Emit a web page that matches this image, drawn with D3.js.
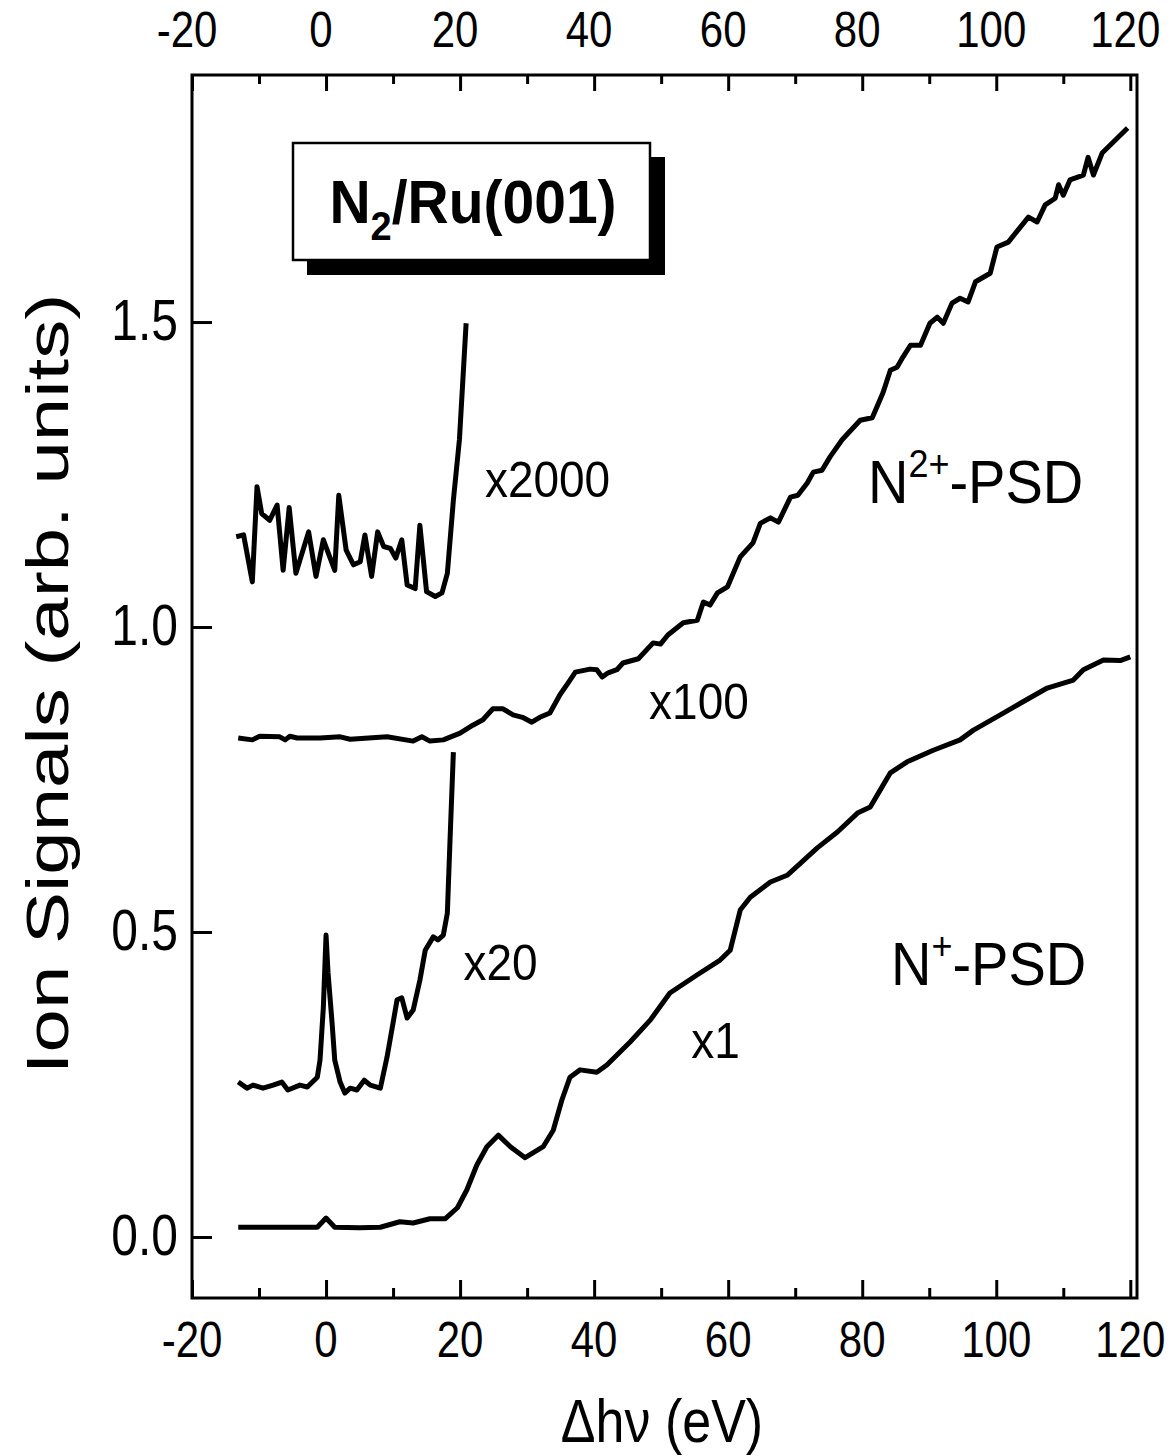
<!DOCTYPE html>
<html>
<head>
<meta charset="utf-8">
<script src="https://cdn.jsdelivr.net/npm/d3@7"></script>
<style>
  body { margin: 0; background: #fff; }
  text { font-family: "Liberation Sans", Arial, sans-serif; fill: #000; }
</style>
</head>
<body>
<div id="chart"></div>
<script>
// tick labels
var xTicks = [-20, 0, 20, 40, 60, 80, 100, 120];
var xMinor = [-10, 10, 30, 50, 70, 90, 110];
var yTicks = [0.0, 0.5, 1.0, 1.5];

// N+ PSD, x1
var nPlusX1 = [
  [-13.1, 0.016], [-8, 0.016], [-3, 0.016], [-1.3, 0.016], [0.0, 0.031], [1.3, 0.016], [5, 0.015],
  [8.1, 0.016], [11.0, 0.025], [13.0, 0.023], [15.5, 0.030], [17.8, 0.030], [19.6, 0.048],
  [21.0, 0.077], [22.5, 0.118], [24.0, 0.148], [25.7, 0.167], [27.5, 0.148], [29.7, 0.130],
  [32.4, 0.148], [33.9, 0.175], [35.2, 0.225], [36.4, 0.262], [37.9, 0.274], [40.4, 0.270],
  [41.9, 0.282], [45.4, 0.320], [48.4, 0.356], [51.3, 0.400], [55.4, 0.430], [58.8, 0.454],
  [60.3, 0.470], [61.8, 0.536], [63.3, 0.557], [66.3, 0.582], [68.8, 0.593], [73.3, 0.638],
  [76.3, 0.664], [79.3, 0.695], [81.2, 0.705], [82.7, 0.733], [84.2, 0.761], [86.7, 0.779],
  [90.6, 0.798], [94.6, 0.815], [96.6, 0.831], [100.6, 0.856], [103.6, 0.875], [107.6, 0.900],
  [111.5, 0.913], [113.0, 0.930], [116.0, 0.946], [118.5, 0.945], [120.0, 0.951]
];

// N+ PSD, x20
var nPlusX20 = [
  [-13.1, 0.254], [-11.8, 0.244], [-10.9, 0.249], [-9.4, 0.244], [-7.9, 0.249], [-6.6, 0.254],
  [-5.7, 0.241], [-3.9, 0.249], [-2.8, 0.246], [-1.3, 0.262], [-0.9, 0.290], [-0.4, 0.377],
  [0.0, 0.495], [0.3, 0.433], [0.9, 0.351], [1.3, 0.290], [2.1, 0.254], [2.8, 0.236],
  [3.6, 0.244], [4.6, 0.241], [5.7, 0.257], [6.6, 0.249], [8.1, 0.244], [9.1, 0.295],
  [10.0, 0.351], [10.6, 0.389], [11.3, 0.392], [12.1, 0.359], [13.0, 0.372], [14.0, 0.421],
  [14.8, 0.470], [16.0, 0.492], [16.7, 0.487], [17.5, 0.495], [18.1, 0.531], [18.5, 0.651],
  [19.0, 0.795]
];

// N2+ PSD, x100
var n2PlusX100 = [
  [-13.1, 0.818], [-11.0, 0.815], [-9.9, 0.821], [-6.9, 0.820], [-6.1, 0.815], [-5.4, 0.821],
  [-4.3, 0.818], [-0.9, 0.818], [2.1, 0.820], [3.6, 0.816], [9.1, 0.820], [13.0, 0.813],
  [14.3, 0.820], [15.5, 0.813], [17.5, 0.815], [20.0, 0.826], [21.9, 0.839], [23.4, 0.848],
  [24.9, 0.866], [26.4, 0.866], [27.9, 0.856], [29.3, 0.852], [30.7, 0.844], [31.9, 0.852],
  [33.4, 0.859], [34.9, 0.889], [36.1, 0.908], [37.2, 0.926], [39.4, 0.931], [40.4, 0.930],
  [41.2, 0.918], [42.1, 0.925], [43.4, 0.930], [44.3, 0.941], [46.6, 0.948], [48.8, 0.974],
  [49.9, 0.972], [51.0, 0.987], [53.3, 1.007], [55.4, 1.011], [56.3, 1.041], [57.3, 1.036],
  [58.4, 1.056], [59.9, 1.066], [61.8, 1.115], [63.7, 1.138], [64.8, 1.170], [66.3, 1.179],
  [67.5, 1.172], [69.3, 1.213], [70.4, 1.216], [71.8, 1.236], [72.7, 1.254], [74.0, 1.257],
  [75.2, 1.279], [77.0, 1.307], [79.7, 1.339], [81.5, 1.343], [83.1, 1.384], [84.2, 1.421],
  [85.2, 1.426], [86.1, 1.443], [87.2, 1.462], [88.7, 1.462], [90.1, 1.498], [91.2, 1.508],
  [92.1, 1.498], [93.4, 1.531], [94.6, 1.539], [95.8, 1.533], [96.9, 1.566], [99.1, 1.580],
  [100.1, 1.623], [101.8, 1.631], [104.8, 1.672], [106.1, 1.664], [107.3, 1.692], [108.8, 1.703],
  [109.3, 1.725], [110.0, 1.708], [111.0, 1.733], [113.0, 1.741], [113.7, 1.770], [114.5, 1.741],
  [115.8, 1.777], [119.6, 1.818]
];

// N2+ PSD, x2000
var n2PlusX2000 = [
  [-13.4, 1.148], [-12.3, 1.151], [-11.0, 1.074], [-10.3, 1.230], [-9.6, 1.186], [-8.4, 1.175],
  [-7.3, 1.200], [-6.4, 1.093], [-5.5, 1.196], [-4.5, 1.088], [-2.6, 1.156], [-1.5, 1.083],
  [-0.4, 1.143], [1.3, 1.093], [1.9, 1.216], [3.0, 1.126], [4.1, 1.102], [5.1, 1.107],
  [5.8, 1.151], [6.8, 1.083], [7.7, 1.156], [8.6, 1.132], [9.6, 1.129], [10.4, 1.113],
  [11.3, 1.143], [12.1, 1.069], [13.3, 1.063], [14.0, 1.167], [15.0, 1.058], [16.3, 1.050],
  [17.3, 1.056], [18.1, 1.088], [19.0, 1.208], [19.9, 1.307], [20.9, 1.498]
];

var width = 1171;
var height = 1456;

var svg = d3.select('#chart')
  .append("svg")
  .attr("width", width)
  .attr("height", height)

var x = d3.scaleLinear().domain([-20, 121]).range([192, 1137])
var y = d3.scaleLinear().domain([-0.1, 1.905]).range([1298, 75])

// the scanned figure is a bit taller than wide, so text gets stretched vertically
var stretch = 1.18

// frame
svg.append("rect")
  .attr("x", 192).attr("y", 75)
  .attr("width", 1137 - 192).attr("height", 1298 - 75)
  .attr("fill", "none").attr("stroke", "#000").attr("stroke-width", 3)

// ticks pointing in, labels drawn by hand below
svg.append("g")
  .attr("transform", "translate(0,1298)")
  .call(d3.axisBottom(x).tickValues(xTicks).tickSizeInner(-18).tickSizeOuter(0).tickFormat(""))
svg.append("g")
  .attr("transform", "translate(0,1298)")
  .call(d3.axisBottom(x).tickValues(xMinor).tickSizeInner(-10).tickSizeOuter(0).tickFormat(""))
svg.append("g")
  .attr("transform", "translate(0,75)")
  .call(d3.axisTop(x).tickValues(xTicks).tickSizeInner(-16).tickSizeOuter(0).tickFormat(""))
svg.append("g")
  .attr("transform", "translate(0,75)")
  .call(d3.axisTop(x).tickValues(xMinor).tickSizeInner(-9).tickSizeOuter(0).tickFormat(""))
svg.append("g")
  .attr("transform", "translate(192,0)")
  .call(d3.axisLeft(y).tickValues(yTicks).tickSizeInner(-20).tickSizeOuter(0).tickFormat(""))

svg.selectAll(".domain").remove()
svg.selectAll(".tick line").attr("stroke", "#000").attr("stroke-width", 3)

// tick labels
svg.selectAll(".xlab-bottom")
  .data(xTicks)
  .enter()
  .append("text")
  .attr("class", "xlab-bottom")
  .attr("transform", function (d) { return "translate(" + x(d) + ",1357) scale(1," + stretch + ")" })
  .attr("text-anchor", "middle")
  .attr("font-size", 42)
  .text(function (d) { return String(d) })

svg.selectAll(".xlab-top")
  .data(xTicks)
  .enter()
  .append("text")
  .attr("class", "xlab-top")
  .attr("transform", function (d) { return "translate(" + (x(d) - 5) + ",47) scale(1," + stretch + ")" })
  .attr("text-anchor", "middle")
  .attr("font-size", 42)
  .text(function (d) { return String(d) })

svg.selectAll(".ylab")
  .data(yTicks)
  .enter()
  .append("text")
  .attr("class", "ylab")
  .attr("transform", function (d) { return "translate(178," + (y(d) + 18) + ") scale(1," + stretch + ")" })
  .attr("text-anchor", "end")
  .attr("font-size", 48)
  .text(function (d) { return d.toFixed(1) })

// curves
var line = d3.line()
  .x(function (d) { return x(d[0]) })
  .y(function (d) { return y(d[1]) })

var curves = [nPlusX1, nPlusX20, n2PlusX100, n2PlusX2000]
svg.selectAll(".curve")
  .data(curves)
  .enter()
  .append("path")
  .attr("class", "curve")
  .attr("d", line)
  .attr("fill", "none")
  .attr("stroke", "#000")
  .attr("stroke-width", 5)
  .attr("stroke-linejoin", "round")

// multiplier labels
var labels = [["x2000", 23.7, 1.213], ["x100", 48.2, 0.849], ["x20", 20.5, 0.422], ["x1", 54.5, 0.293]]
svg.selectAll(".mult")
  .data(labels)
  .enter()
  .append("text")
  .attr("class", "mult")
  .attr("transform", function (d) { return "translate(" + x(d[1]) + "," + y(d[2]) + ") scale(1,1.1)" })
  .attr("font-size", 46)
  .text(function (d) { return d[0] })

// species labels
var n2 = svg.append("text").attr("transform", "translate(868,503) scale(1,1.08)").attr("font-size", 56)
n2.append("tspan").text("N")
n2.append("tspan").attr("dy", -24).attr("font-size", 36).text("2+")
n2.append("tspan").attr("dy", 24).text("-PSD")

var n1 = svg.append("text").attr("transform", "translate(891,985) scale(1,1.08)").attr("font-size", 56)
n1.append("tspan").text("N")
n1.append("tspan").attr("dy", -24).attr("font-size", 36).text("+")
n1.append("tspan").attr("dy", 24).text("-PSD")

// title box with shadow
svg.append("rect").attr("x", 307).attr("y", 157).attr("width", 358).attr("height", 118).attr("fill", "#000")
svg.append("rect").attr("x", 293).attr("y", 143).attr("width", 357).attr("height", 117)
  .attr("fill", "#fff").attr("stroke", "#000").attr("stroke-width", 2.5)
var title = svg.append("text").attr("transform", "translate(473,223) scale(1,1.08)").attr("font-size", 57)
  .attr("font-weight", "bold").attr("text-anchor", "middle")
title.append("tspan").text("N")
title.append("tspan").attr("dy", 16).attr("font-size", 38).text("2")
title.append("tspan").attr("dy", -16).text("/Ru(001)")

// axis titles
svg.append("text")
  .attr("transform", "translate(662,1442) scale(1," + stretch + ")")
  .attr("text-anchor", "middle").attr("font-size", 52)
  .text("\u0394h\u03bd (eV)")

svg.append("text")
  .attr("transform", "translate(68,684) rotate(-90) scale(1.3,1)")
  .attr("text-anchor", "middle").attr("font-size", 60)
  .text("Ion Signals (arb. units)")
</script>
</body>
</html>
